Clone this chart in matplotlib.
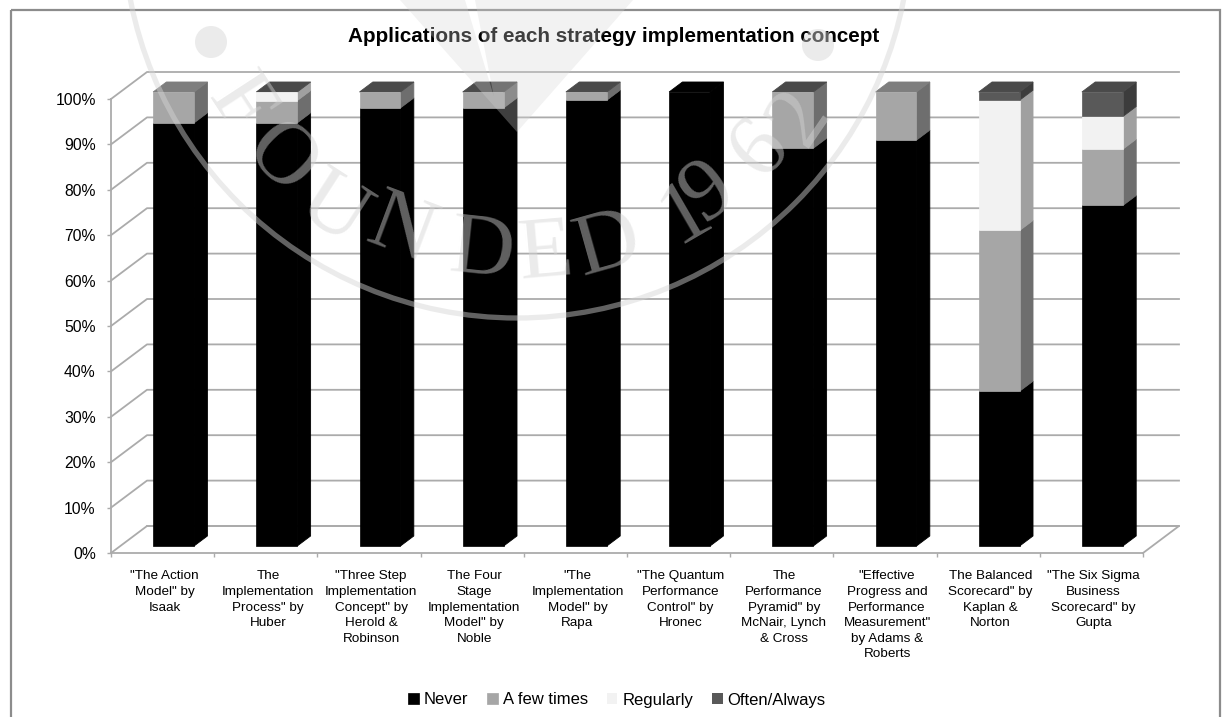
import numpy as np
from matplotlib import pyplot as plt
from matplotlib.patches import Circle, Polygon, Rectangle

plt.rcParams['font.family'] = ['Liberation Sans', 'DejaVu Sans']

# percent of respondents per concept, nan = blank cell in the survey table
concepts = [
    '"The Action\nModel" by\nIsaak',
    'The\nImplementation\nProcess" by\nHuber',
    '"Three Step\nImplementation\nConcept" by\nHerold &\nRobinson',
    'The Four\nStage\nImplementation\nModel" by\nNoble',
    '"The\nImplementation\nModel" by\nRapa',
    '"The Quantum\nPerformance\nControl" by\nHronec',
    'The\nPerformance\nPyramid" by\nMcNair, Lynch\n& Cross',
    '"Effective\nProgress and\nPerformance\nMeasurement"\nby Adams &\nRoberts',
    'The Balanced\nScorecard" by\nKaplan &\nNorton',
    '"The Six Sigma\nBusiness\nScorecard" by\nGupta',
]
nan = float('nan')
never = [93.2, 93.2, 96.5, 96.5, 98.2, 100.0, 87.6, 89.4, 34.1, 75.0]
few_times = [6.8, 4.9, 3.5, 3.5, 1.8, nan, 12.4, 10.6, 35.4, 12.4]
regularly = [nan, 1.9, nan, nan, nan, nan, nan, nan, 28.7, 7.2]
often = [nan, 0.0, 0.0, 0.0, 0.0, nan, 0.0, nan, 1.8, 5.4]
y_ticks = [0, 10, 20, 30, 40, 50, 60, 70, 80, 90, 100]

series = [
    ('Never', never, '#000000', '#000000', '#000000'),
    ('A few times', few_times, '#A6A6A6', '#6E6E6E', '#7E7E7E'),
    ('Regularly', regularly, '#F2F2F2', '#A0A0A0', '#BDBDBD'),
    ('Often/Always', often, '#595959', '#3C3C3C', '#4A4A4A'),
]

W, H = 1223, 717
fig = plt.figure(figsize=(W / 100, H / 100), dpi=100, facecolor='white')

# the axes is the front plane of the fake 3D box
ax = fig.add_axes([111 / W, (H - 553) / H, 1032 / W, 454 / H], facecolor='none')
ax.set_xlim(0, 10)
ax.set_ylim(0, 100)

# oblique projection: depth 0 is the front plane, depth 1 the back wall
KX, KY = 36 / 103.2, 27 / 4.54
def proj(x, y, d):
    return x + d * KX, y + d * KY

GRID = '#ABABAB'
for t in y_ticks:
    xa, ya = proj(0, t, 0)
    xb, yb = proj(0, t, 1)
    xc, yc = proj(10, t, 1)
    ax.plot([xa, xb, xc], [ya, yb, yc], color=GRID, lw=1.3, zorder=1, clip_on=False)
xa, ya = proj(0, 0, 1)
xb, yb = proj(10, 0, 1)
xc, yc = proj(10, 0, 0)
ax.plot([xa, xb, xc], [ya, yb, yc], color=GRID, lw=1.3, zorder=1, clip_on=False)

BAR_W = 0.397
D_FRONT, D_BACK = 0.26, 0.63
centers = np.arange(10) + 0.516

bottom = np.zeros(10)
last = np.full(10, -1)
for k, s in enumerate(series):
    last[~np.isnan(s[1])] = k

for k, (name, vals, front, side, cap) in enumerate(series):
    vals = np.nan_to_num(np.array(vals, dtype=float))
    x0, y0 = proj(centers, bottom, D_FRONT)
    edge_w = [0.5 if v > 0 else 0 for v in vals]
    ax.bar(x0, vals, BAR_W, bottom=y0, color=front, edgecolor=front, linewidth=edge_w,
           label=name, zorder=3, clip_on=False)
    for i in range(10):
        top = bottom[i] + vals[i]
        r = centers[i] + BAR_W / 2
        l = centers[i] - BAR_W / 2
        # hairline edge in the face colour closes the antialiasing gap between faces
        if vals[i] > 0:
            pts = [proj(r, bottom[i], D_FRONT), proj(r, bottom[i], D_BACK),
                   proj(r, top, D_BACK), proj(r, top, D_FRONT)]
            ax.add_patch(Polygon(pts, closed=True, fc=side, ec=side, lw=0.6, zorder=2, clip_on=False))
        if last[i] == k:
            pts = [proj(l, top, D_FRONT), proj(r, top, D_FRONT),
                   proj(r, top, D_BACK), proj(l, top, D_BACK)]
            ax.add_patch(Polygon(pts, closed=True, fc=cap, ec=cap, lw=0.6, zorder=2, clip_on=False))
    bottom = bottom + vals

for side_name in ['top', 'right']:
    ax.spines[side_name].set_visible(False)
for side_name in ['left', 'bottom']:
    ax.spines[side_name].set_color(GRID)
    ax.spines[side_name].set_linewidth(1.3)

ax.set_yticks(y_ticks, [f'{t}%' for t in y_ticks], fontsize=11.3)
ax.tick_params(axis='y', length=3, width=1, color=GRID, pad=8)
ax.set_xticks(np.arange(11))
ax.set_xticklabels([])
ax.tick_params(axis='x', which='major', length=3, width=1, color=GRID)
ax.set_xticks(np.arange(10) + 0.52, concepts, minor=True, fontsize=9.7, linespacing=1.4)
ax.tick_params(axis='x', which='minor', length=0, pad=12.5)

ax.legend(loc='center', bbox_to_anchor=(617 / W, (H - 700) / H),
          bbox_transform=fig.transFigure, ncol=4, frameon=False, fontsize=12,
          handlelength=0.62, handleheight=0.62, handletextpad=0.3, columnspacing=1.15)

fig.text(614 / W, 1 - 36 / H, 'Applications of each strategy implementation concept',
         ha='center', va='center', fontsize=14.9, fontweight='bold')

# page overlay in pixel coordinates: chart frame and the seal printed across the page
over = fig.add_axes([0, 0, 1, 1], facecolor='none', zorder=5)
over.set_xlim(0, W)
over.set_ylim(H, 0)
over.axis('off')
over.add_patch(Rectangle((11, 10), 1209, 720, fill=False, ec='#8C8C8C', lw=1.6))

SEAL_C = (517, -76)
SEAL_FC = '#D4D4D4'
over.add_patch(Circle(SEAL_C, 394, fill=False, ec=SEAL_FC, lw=3.8, alpha=0.46))
over.add_patch(Circle((211, 42), 16, fc=SEAL_FC, ec='none', alpha=0.46))
over.add_patch(Circle((818, 45), 16, fc=SEAL_FC, ec='none', alpha=0.46))
over.add_patch(Polygon([(400, 0), (465, 0), (494, 97), (475, 0), (633, 0), (517, 132)],
                       closed=True, fc=SEAL_FC, ec='none', alpha=0.3))

letters = ['F', 'O', 'U', 'N', 'D', 'E', 'D', '1', '9', '6', '2']
letter_x = [247, 287, 337, 405, 483, 545, 605, 680, 702, 753, 792]
letter_y = [100, 153, 203, 222, 243, 245, 237, 205, 185, 143, 113]
for ch, lx, ly in zip(letters, letter_x, letter_y):
    rot = np.degrees(np.arctan2(lx - SEAL_C[0], ly - SEAL_C[1]))
    over.text(lx, ly, ch, family='Liberation Serif', fontsize=64, color=SEAL_FC, alpha=0.46,
              rotation=rot, rotation_mode='anchor', ha='center', va='center_baseline')

fig.savefig('out.png', dpi=100)
